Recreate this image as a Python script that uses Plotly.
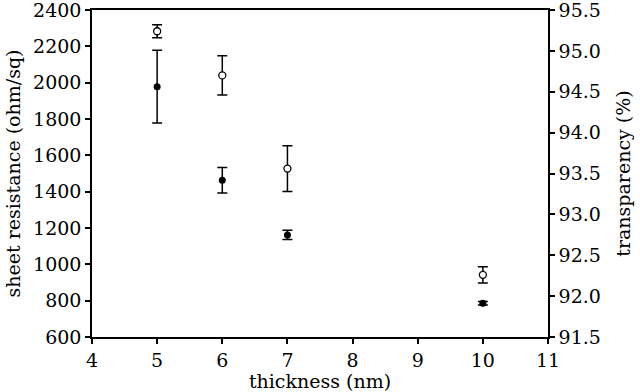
import plotly.graph_objects as go

thickness = [5, 6, 7, 10]
sheet_res = [1978, 1463, 1162, 786]
sheet_res_err = [200, 70, 25, 10]
transparency = [95.24, 94.70, 93.56, 92.26]
transparency_err = [0.08, 0.24, 0.28, 0.10]

FONT = "DejaVu Serif"

fig = go.Figure()
fig.add_trace(go.Scatter(
    x=thickness, y=sheet_res, mode="markers",
    marker=dict(symbol="circle", size=7, color="black"),
    error_y=dict(type="data", array=sheet_res_err, color="black", thickness=1.5, width=5),
    yaxis="y", showlegend=False))
fig.add_trace(go.Scatter(
    x=thickness, y=transparency, mode="markers",
    marker=dict(symbol="circle", size=7, color="white", line=dict(color="black", width=1.3)),
    error_y=dict(type="data", array=transparency_err, color="black", thickness=1.5, width=5),
    yaxis="y2", showlegend=False))

axis_common = dict(showline=True, linecolor="black", linewidth=1.5, ticks="outside",
                   ticklen=5, tickwidth=1.5, tickcolor="black", showgrid=False, zeroline=False,
                   ticklabeloverflow="allow",
                   tickfont=dict(family=FONT, size=19, color="black"))

fig.update_layout(
    width=640, height=392,
    margin=dict(l=92, r=92, t=10, b=55, autoexpand=False),
    paper_bgcolor="white", plot_bgcolor="white",
    font=dict(family=FONT, size=19, color="black"),
    xaxis=dict(range=[4, 11], dtick=1, tick0=4, mirror=True,
               title=dict(text="thickness (nm)", font=dict(family=FONT, size=19), standoff=0),
               **axis_common),
    yaxis=dict(range=[600, 2400], dtick=200, tick0=600,
               title=dict(text="sheet resistance (ohm/sq)", font=dict(family=FONT, size=19), standoff=7),
               **axis_common),
    yaxis2=dict(range=[91.5, 95.5], dtick=0.5, tick0=91.5, tickformat=".1f",
                overlaying="y", side="right",
                title=dict(text="transparency (%)", font=dict(family=FONT, size=19), standoff=17),
                **axis_common),
)

fig.write_html("out.html", config={"displayModeBar": False},
               post_script="document.body.style.margin='0';document.body.style.overflow='hidden';")
